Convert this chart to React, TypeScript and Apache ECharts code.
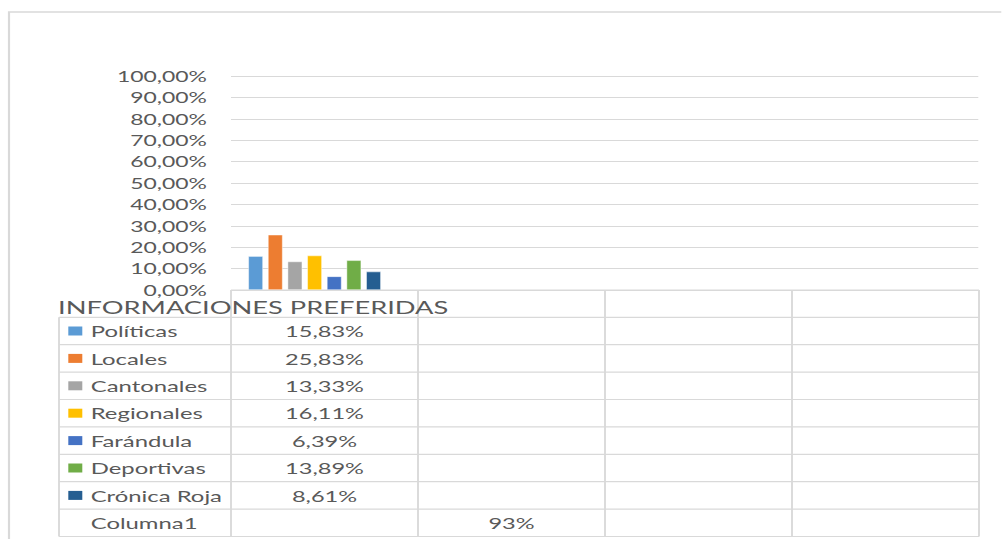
import React, { useEffect, useRef } from "react";
import * as echarts from "echarts";

// ---- data ----
const categories = ["", "", "", ""];
const seriesNames = ["Políticas", "Locales", "Cantonales", "Regionales", "Farándula", "Deportivas", "Crónica Roja"];
const seriesValues = [0.1583, 0.2583, 0.1333, 0.1611, 0.0639, 0.1389, 0.0861];
const seriesColors = ["#5B9BD5", "#ED7D31", "#A5A5A5", "#FFC000", "#4472C4", "#70AD47", "#255E91"];
const extraSeriesName = "Columna1";
const extraSeriesValues: (number | null)[] = [null, 0.93, null, null];
const titleText = "INFORMACIONES PREFERIDAS";
const yMin = 0;
const yMax = 1;
const yInterval = 0.1;

// ---- layout (screen px; the drawing is stretched horizontally by S) ----
const S = 1.55;
const W = 1002 / S;
const H = 539;
const X = (px: number) => px / S;
const FONT = "Lato, 'Liberation Sans', sans-serif";
const TEXT = "#595959";
const LINE = "#d9d9d9";

const plotLeft = 231;
const plotRight = 979;
const plotTop = 76;
const plotBottom = 290;
const tableLeft = 59;
const headerBottom = 317.3;
const rowH = 27.4;

const fmt2 = (v: number) => (v * 100).toFixed(2).replace(".", ",") + "%";
const fmt0 = (v: number) => (v * 100).toFixed(0) + "%";

export default function App() {
  const ref = useRef<HTMLDivElement>(null);
  useEffect(() => {
    if (!ref.current) return;
    const chart = echarts.init(ref.current, null, { renderer: "svg" });
    const nCat = categories.length;
    const catW = (plotRight - plotLeft) / nCat;
    const nRows = seriesNames.length + 1;
    const tableBottom = headerBottom + nRows * rowH;

    const g: any[] = [];
    // outer frame
    g.push({
      type: "rect",
      shape: { x: X(9), y: 12, width: 2000, height: 1000 },
      style: { fill: "none", stroke: LINE, lineWidth: 1.4 },
      silent: true,
    });
    // table top line (over the category columns)
    g.push({
      type: "line",
      shape: { x1: X(plotLeft), y1: plotBottom, x2: X(plotRight), y2: plotBottom },
      style: { stroke: LINE, lineWidth: 1.2 },
    });
    // horizontal row lines
    for (let r = 0; r <= nRows; r++) {
      const y = headerBottom + r * rowH;
      g.push({
        type: "line",
        shape: { x1: X(tableLeft), y1: y, x2: X(plotRight), y2: y },
        style: { stroke: LINE, lineWidth: 1.2 },
      });
    }
    // vertical lines
    g.push({
      type: "line",
      shape: { x1: X(tableLeft), y1: headerBottom, x2: X(tableLeft), y2: tableBottom },
      style: { stroke: LINE, lineWidth: 1.2 },
    });
    for (let c = 0; c <= nCat; c++) {
      const x = plotLeft + c * catW;
      g.push({
        type: "line",
        shape: { x1: X(x), y1: plotBottom, x2: X(x), y2: tableBottom },
        style: { stroke: LINE, lineWidth: 1.2 },
      });
    }
    // title
    g.push({
      type: "text",
      x: X(58),
      y: 307.5,
      style: { text: titleText, fill: TEXT, font: `17.6px ${FONT}`, verticalAlign: "middle", align: "left" },
    });
    // rows
    const rowNames = [...seriesNames, extraSeriesName];
    rowNames.forEach((name, i) => {
      const cy = headerBottom + i * rowH + rowH / 2;
      if (i < seriesNames.length) {
        g.push({
          type: "rect",
          shape: { x: X(68.3), y: cy - 4.5, width: X(14), height: 9 },
          style: { fill: seriesColors[i] },
        });
      }
      g.push({
        type: "text",
        x: X(90.7),
        y: cy,
        style: { text: name, fill: TEXT, font: `15.4px ${FONT}`, verticalAlign: "middle", align: "left" },
      });
      const vals = i < seriesNames.length ? [seriesValues[i], null, null, null] : extraSeriesValues;
      vals.forEach((v, c) => {
        if (v == null) return;
        g.push({
          type: "text",
          x: X(plotLeft + (c + 0.5) * catW),
          y: cy,
          style: {
            text: i < seriesNames.length ? fmt2(v) : fmt0(v),
            fill: TEXT,
            font: `15.2px ${FONT}`,
            verticalAlign: "middle",
            align: "center",
          },
        });
      });
    });

    const series: any[] = seriesNames.map((name, i) => ({
      name,
      type: "bar",
      data: categories.map((_, c) => (c === 0 ? seriesValues[i] : null)),
      barWidth: X(15),
      barGap: "31%",
      itemStyle: { color: seriesColors[i], borderColor: "rgba(255,255,255,0.6)", borderWidth: 0.6 },
    }));
    series.push({
      name: extraSeriesName,
      type: "bar",
      data: extraSeriesValues,
      barWidth: X(15),
      barGap: "31%",
      itemStyle: { color: "rgba(0,0,0,0)" },
    });

    chart.setOption({
      animation: false,
      backgroundColor: "#ffffff",
      grid: {
        left: X(plotLeft),
        right: W - X(plotRight),
        top: plotTop,
        bottom: H - plotBottom,
        containLabel: false,
      },
      xAxis: {
        type: "category",
        data: categories,
        axisLine: { show: false },
        axisTick: { show: false },
        axisLabel: { show: false },
      },
      yAxis: {
        type: "value",
        min: yMin,
        max: yMax,
        interval: yInterval,
        axisLine: { show: false },
        axisTick: { show: false },
        splitLine: { lineStyle: { color: LINE, width: 1.2 } },
        axisLabel: {
          formatter: (v: number) => fmt2(v),
          color: TEXT,
          fontFamily: FONT,
          fontSize: 14.8,
          margin: X(24),
        },
      },
      series,
      graphic: g,
    });
    return () => chart.dispose();
  }, []);

  return (
    <div
      style={{
        position: "fixed",
        left: 0,
        top: 0,
        width: 1002,
        height: 539,
        overflow: "hidden",
        background: "#fff",
      }}
    >
      <div
        ref={ref}
        style={{ width: W, height: H, transform: `scaleX(${S})`, transformOrigin: "0 0" }}
      />
    </div>
  );
}
